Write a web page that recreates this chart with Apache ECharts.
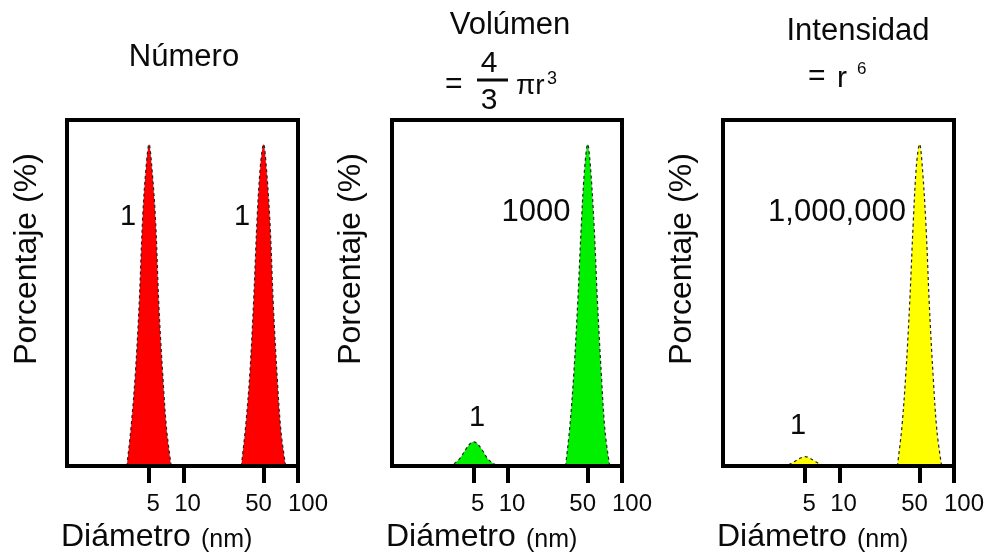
<!DOCTYPE html>
<html>
<head>
<meta charset="utf-8">
<script src="https://cdn.jsdelivr.net/npm/echarts@6/dist/echarts.min.js"></script>
<style>
html,body{margin:0;padding:0;background:#ffffff;}
#chart{width:988px;height:552px;}
</style>
</head>
<body>
<div id="chart"></div>
<script>
// ---------------- data ----------------
const xTicks = [5, 10, 50, 100];
const panelTitles = ['Número', 'Volúmen', 'Intensidad'];
const yAxisName = 'Porcentaje (%)';
const xAxisName = 'Diámetro';
const xAxisUnit = '(nm)';

// diameters (nm) sampled across each peak
const diamPeak5 = [3.2, 3.5, 3.8, 4.1, 4.4, 4.7, 5.0, 5.3, 5.7, 6.1, 6.6, 7.1, 7.8];
const diamPeak50 = [32, 35, 38, 41, 44, 47, 50, 53, 57, 61, 66, 71, 78];
const diamSmallVolumen = [3.0, 3.4, 3.8, 4.2, 4.6, 5.0, 5.4, 6.0, 6.6, 7.4, 8.3];
const diamSmallIntensidad = [3.2, 3.6, 4.0, 4.5, 5.0, 5.5, 6.2, 7.0, 7.8];

// percentages
const numeroPeak5 = [0, 12, 27, 47, 72, 86, 93, 86, 71, 46, 26, 11, 0];
const numeroPeak50 = [0, 12, 27, 48, 72, 87, 93, 86, 70, 46, 25, 10, 0];
const volumenPeak5 = [0, 0.8, 2.3, 4.5, 6.3, 7.0, 6.4, 4.4, 2.2, 0.8, 0];
const volumenPeak50 = [0, 12, 28, 48, 70, 86, 93, 86, 69, 47, 26, 10, 0];
const intensidadPeak5 = [0, 0.4, 1.2, 2.2, 2.7, 2.3, 1.2, 0.4, 0];
const intensidadPeak50 = [0, 11, 27, 47, 70, 87, 93, 86, 69, 46, 25, 10, 0];

// annotation texts
const numeroLabels = ['1', '1'];
const volumenLabels = ['1', '1000'];
const intensidadLabels = ['1', '1,000,000'];

// ---------------- chart ----------------
const FONT = '"Liberation Sans", Arial, Helvetica, sans-serif';
const TXT = '#0a0a0a';
const colors = ['#ff0000', '#00f000', '#ffff00'];
const gridBoxes = [
  {left: 67, width: 231},
  {left: 392, width: 230},
  {left: 723, width: 231}
];

const grids = gridBoxes.map(b => ({
  left: b.left, width: b.width, top: 120, height: 346,
  show: true, borderColor: '#000', borderWidth: 4,
  backgroundColor: 'transparent', z: 5
}));

const xAxes = gridBoxes.map((b, i) => ({
  gridIndex: i, type: 'log', logBase: 10, min: 0.96, max: 100,
  axisLine: {show: false},
  splitLine: {show: false},
  minorTick: {show: false},
  axisTick: {show: true, inside: false, length: 17, customValues: xTicks,
    lineStyle: {color: '#000', width: 4}},
  axisLabel: {show: true, customValues: xTicks, fontSize: 24, color: TXT,
    fontFamily: FONT, margin: 26,
    formatter: v => (v >= 99 ? '{r|' + Math.round(v) + '}' :
      (v >= 49 ? '{l|' + Math.round(v) + '}' : '{n|' + Math.round(v) + '}')),
    rich: {
      r: {fontSize: 24, color: TXT, fontFamily: FONT, padding: [0, 0, 0, 20]},
      l: {fontSize: 24, color: TXT, fontFamily: FONT, padding: [0, 10, 0, 0]},
      n: {fontSize: 24, color: TXT, fontFamily: FONT, padding: [0, 0, 0, 8]}
    }}
}));

const yAxes = gridBoxes.map((b, i) => ({
  gridIndex: i, type: 'value', min: 0, max: 100, show: false
}));

function peak(i, diam, vals, color) {
  return {
    type: 'line', xAxisIndex: i, yAxisIndex: i,
    data: diam.map((d, k) => [d, vals[k]]),
    smooth: 0.35, showSymbol: false, symbol: 'none', silent: true,
    lineStyle: {color: '#222', width: 1.2, type: [3, 3]},
    itemStyle: {color: color},
    areaStyle: {color: color, opacity: 1},
    z: 2
  };
}

const series = [
  peak(0, diamPeak5, numeroPeak5, colors[0]),
  peak(0, diamPeak50, numeroPeak50, colors[0]),
  peak(1, diamSmallVolumen, volumenPeak5, colors[1]),
  peak(1, diamPeak50, volumenPeak50, colors[1]),
  peak(2, diamSmallIntensidad, intensidadPeak5, colors[2]),
  peak(2, diamPeak50, intensidadPeak50, colors[2])
];

function txt(text, x, y, size, opts) {
  return Object.assign({
    type: 'text', x: x, y: y, silent: true, z: 10,
    style: {text: text, fontSize: size, fontFamily: FONT, fill: TXT,
      align: (opts && opts.align) || 'center', verticalAlign: 'middle'}
  }, opts && opts.rotation !== undefined ? {rotation: opts.rotation} : {});
}

const graphics = [
  // titles
  txt(panelTitles[0], 184, 57, 31),
  txt(panelTitles[1], 510, 25, 31),
  txt(panelTitles[2], 858, 31, 31),
  // volume formula
  txt('=', 445, 85, 30, {align: 'left'}),
  txt('4', 489, 64, 30),
  {type: 'line', silent: true, z: 10, shape: {x1: 477, y1: 80, x2: 508, y2: 80},
    style: {stroke: TXT, lineWidth: 3}},
  txt('3', 489, 101, 30),
  txt('\u03c0r', 516, 86, 28, {align: 'left'}),
  txt('3', 547, 79, 18, {align: 'left'}),
  // intensity formula
  txt('=', 808, 77, 30, {align: 'left'}),
  txt('r', 837, 79, 30, {align: 'left'}),
  txt('6', 857, 69, 17, {align: 'left'}),
  // y axis names
  txt(yAxisName, 27, 259, 32, {rotation: Math.PI / 2}),
  txt(yAxisName, 351, 259, 32, {rotation: Math.PI / 2}),
  txt(yAxisName, 682, 259, 32, {rotation: Math.PI / 2}),
  // x axis names
  txt(xAxisName, 61, 537, 32, {align: 'left'}),
  txt(xAxisUnit, 201, 540, 25, {align: 'left'}),
  txt(xAxisName, 386, 537, 32, {align: 'left'}),
  txt(xAxisUnit, 526, 540, 25, {align: 'left'}),
  txt(xAxisName, 717, 537, 32, {align: 'left'}),
  txt(xAxisUnit, 857, 540, 25, {align: 'left'}),
  // peak annotations
  txt(numeroLabels[0], 128, 217, 29),
  txt(numeroLabels[1], 242, 217, 29),
  txt(volumenLabels[0], 477, 418, 29),
  txt(volumenLabels[1], 536, 212, 31),
  txt(intensidadLabels[0], 798, 426, 29),
  txt(intensidadLabels[1], 837, 212, 31)
];

const chart = echarts.init(document.getElementById('chart'), null, {renderer: 'canvas'});
chart.setOption({
  animation: false,
  backgroundColor: '#ffffff',
  grid: grids,
  xAxis: xAxes,
  yAxis: yAxes,
  series: series,
  graphic: graphics
});
</script>
</body>
</html>
